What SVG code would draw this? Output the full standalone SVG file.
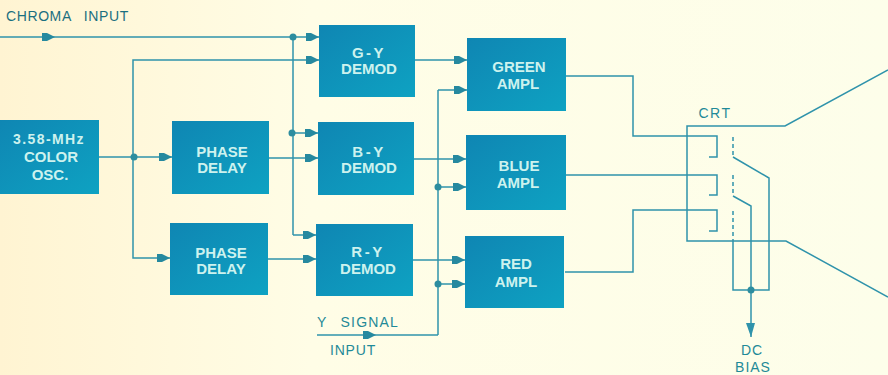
<svg xmlns="http://www.w3.org/2000/svg" width="888" height="375" viewBox="0 0 888 375">
<style>
.w{fill:none;stroke:#2f93ab;stroke-width:1.5}
.a{marker-end:url(#ah)}
.d{fill:#2d8d9f}
.b{font-family:"Liberation Sans",Arial,sans-serif;font-size:15px;fill:#cdf2ee;text-anchor:middle;font-weight:bold}
.l{font-family:"Liberation Sans",Arial,sans-serif;font-size:14px;fill:#1f8a98;text-anchor:middle}
</style>
<defs>
<linearGradient id="bg" x1="0" y1="0" x2="1" y2="0"><stop offset="0" stop-color="#fff4d2"/><stop offset="0.35" stop-color="#fffde6"/><stop offset="1" stop-color="#fdfeea"/></linearGradient>
<linearGradient id="bx" x1="0" y1="0" x2="1" y2="1"><stop offset="0" stop-color="#0f86b3"/><stop offset="1" stop-color="#0ea2c2"/></linearGradient>
<marker id="ah" markerUnits="userSpaceOnUse" markerWidth="14" markerHeight="10" refX="13" refY="5" orient="auto"><path d="M0 1 L5 1 L13 5 L5 9 L0 9Z" fill="#26899f"/></marker>
<marker id="dn" markerUnits="userSpaceOnUse" markerWidth="10" markerHeight="15" refX="5" refY="14" orient="0"><path d="M0 0H9L5 14Z" fill="#2f93ab"/></marker>
</defs>
<rect width="888" height="375" fill="url(#bg)"/>
<g id="connectors">
<path class="w a" d="M0 37H55"/>
<path class="w" d="M55 37H293"/>
<path class="w a" d="M293 37H319"/>
<path class="w" d="M293 37V235"/>
<path class="w a" d="M293 235H316"/>
<path class="w a" d="M293 133H318"/>
<path class="w" d="M99 157H133"/>
<path class="w a" d="M133 157H172"/>
<path class="w a" d="M133 157V60H319"/>
<path class="w a" d="M133 157V258H170"/>
<path class="w a" d="M269 158H318"/>
<path class="w a" d="M268 259H316"/>
<path class="w a" d="M415 60H467"/>
<path class="w a" d="M414 159H466"/>
<path class="w a" d="M413 260H465"/>
<path class="w a" d="M438 90H467"/>
<path class="w a" d="M438 187H466"/>
<path class="w a" d="M438 284H465"/>
<path class="w" d="M438 90V335"/>
<path class="w a" d="M317 335H376"/>
<path class="w" d="M376 335H438"/>
<circle class="d" cx="293" cy="37" r="3.5"/>
<circle class="d" cx="292" cy="133" r="3.5"/>
<circle class="d" cx="134" cy="157" r="3.5"/>
<circle class="d" cx="438" cy="187" r="3.5"/>
<circle class="d" cx="438" cy="284" r="3.5"/>
<path class="w" d="M566 76H633V136H717V157H709"/>
<path class="w" d="M566 175H717V195H709"/>
<path class="w" d="M565 272H633V210H717V231H709"/>
<path class="w" d="M733 241V290H769V178L733 157"/>
<path class="w" d="M751 290V206L733 196"/>
<path class="w" d="M751 290V337" marker-end="url(#dn)"/>
<circle class="d" cx="751" cy="290" r="3.5"/>
</g>
<g id="crt">
<path class="w" d="M888 70L785 126H687V241H786L888 297"/>
<path class="w" d="M733 137V157M733 175V196M733 211V241" stroke-dasharray="4 3"/>
<text class="l" x="715" y="118" letter-spacing="1.5">CRT</text>
</g>
<g id="chroma-input"><text class="l" x="6" y="21" style="fill:#1b6f80;text-anchor:start;font-size:14px" letter-spacing="0.6">CHROMA<tspan dx="12">INPUT</tspan></text></g>
<g id="osc"><rect x="-1" y="120" width="100" height="74" fill="url(#bx)"/><text class="b" x="49" y="144" style="font-size:14px" letter-spacing="1.4">3.58-MHz</text><text class="b" x="51" y="162">COLOR</text><text class="b" x="50" y="180">OSC.</text></g>
<g id="phase1"><rect x="172" y="121" width="97" height="73" fill="url(#bx)"/><text class="b" x="222" y="157">PHASE</text><text class="b" x="222" y="173">DELAY</text></g>
<g id="phase2"><rect x="170" y="223" width="98" height="72" fill="url(#bx)"/><text class="b" x="221" y="258">PHASE</text><text class="b" x="221" y="274">DELAY</text></g>
<g id="gy"><rect x="319" y="25" width="96" height="72" fill="url(#bx)"/><text class="b" x="369" y="58" letter-spacing="2.5">G-Y</text><text class="b" x="369" y="74">DEMOD</text></g>
<g id="by"><rect x="318" y="122" width="96" height="73" fill="url(#bx)"/><text class="b" x="369" y="157" letter-spacing="2.5">B-Y</text><text class="b" x="369" y="173">DEMOD</text></g>
<g id="ry"><rect x="316" y="224" width="97" height="72" fill="url(#bx)"/><text class="b" x="368" y="257" letter-spacing="2.5">R-Y</text><text class="b" x="368" y="274">DEMOD</text></g>
<g id="green"><rect x="467" y="38" width="99" height="73" fill="url(#bx)"/><text class="b" x="519" y="72">GREEN</text><text class="b" x="518" y="89">AMPL</text></g>
<g id="blue"><rect x="466" y="135" width="100" height="75" fill="url(#bx)"/><text class="b" x="519" y="171">BLUE</text><text class="b" x="518" y="188">AMPL</text></g>
<g id="red"><rect x="465" y="236" width="99" height="72" fill="url(#bx)"/><text class="b" x="516" y="269">RED</text><text class="b" x="516" y="287">AMPL</text></g>
<g id="y-signal"><text class="l" x="317" y="327" style="text-anchor:start" letter-spacing="1.2">Y<tspan dx="13">SIGNAL</tspan></text><text class="l" x="353" y="355" letter-spacing="0.8">INPUT</text></g>
<g id="dc-bias"><text class="l" x="752" y="355" letter-spacing="1">DC</text><text class="l" x="753" y="372" letter-spacing="1">BIAS</text></g>
</svg>
